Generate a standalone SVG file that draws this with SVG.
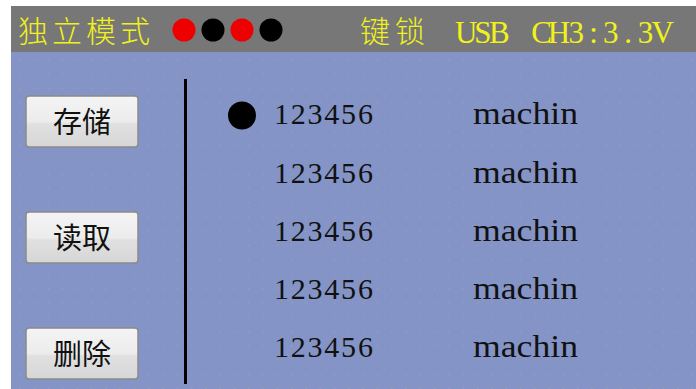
<svg xmlns="http://www.w3.org/2000/svg" width="696" height="389" viewBox="0 0 696 389">
<style>
.cjk{font-family:"Noto Sans CJK SC","Noto Sans",sans-serif;}
.ser{font-family:"Liberation Serif","DejaVu Serif",serif;}
.mid{text-anchor:middle;}
.hdr{fill:#f2f21a;font-size:30px;font-weight:300;}
.hdr.ser{font-size:31px;font-weight:400;}
.btn rect{fill:url(#btnGrad);stroke:#8a8a8a;stroke-width:1.5;}
.btn text{fill:#111;font-size:29px;text-anchor:middle;}
.row text{fill:#111;font-size:30px;}
.row text.w{font-size:32px;}
</style>
<defs>
<linearGradient id="btnGrad" x1="0" y1="0" x2="0" y2="1">
<stop offset="0" stop-color="#f4f4f4"/>
<stop offset="0.5" stop-color="#ececec"/>
<stop offset="0.55" stop-color="#e0e0e0"/>
<stop offset="1" stop-color="#d6d6d6"/>
</linearGradient>
<pattern id="dots" x="5" y="2" width="14.3" height="14.3" patternUnits="userSpaceOnUse">
<rect x="0" y="0" width="1.2" height="1.2" fill="#9aa0b8"/>
</pattern>
</defs>
<rect width="696" height="389" fill="#ffffff"/>
<g id="screen">
<rect x="11" y="52" width="685" height="337" fill="#8494c6"/>
<rect x="11" y="52" width="685" height="337" fill="url(#dots)"/>
</g>
<g id="header">
<rect x="11" y="6" width="685" height="46" fill="#777777"/>
<text class="cjk hdr" x="18" y="42" textLength="132">独立模式</text>
<circle cx="184" cy="30" r="11.5" fill="#ee0000"/>
<circle cx="213" cy="30" r="11.5" fill="#000"/>
<circle cx="242" cy="30" r="11.5" fill="#ee0000"/>
<circle cx="271" cy="30" r="11.5" fill="#000"/>
<text class="cjk hdr" x="360" y="42" textLength="65">键锁</text>
<text class="ser mid hdr" x="466.3 482.8 499.3" y="43">USB</text>
<text class="ser mid hdr" x="541.6 558.9 576.2 593.5 610.8 628.1 645.4 662.7" y="43">CH3:3.3V</text>
</g>
<g id="btn-save" class="btn">
<rect x="26" y="96" width="112" height="51" rx="3"/>
<text class="cjk" x="82" y="133">存储</text>
</g>
<g id="btn-read" class="btn">
<rect x="26" y="212" width="112" height="51" rx="3"/>
<text class="cjk" x="82" y="249">读取</text>
</g>
<g id="btn-delete" class="btn">
<rect x="26" y="328" width="112" height="51" rx="3"/>
<text class="cjk" x="82" y="365">删除</text>
</g>
<g id="divider">
<line x1="185.5" y1="79" x2="185.5" y2="384" stroke="#000" stroke-width="3"/>
</g>
<g id="list">
<circle cx="242" cy="115.5" r="14" fill="#000"/>
<g class="row ser">
<text class="mid" x="281.4 298.2 315 331.8 348.6 365.4" y="124">123456</text>
<text class="w" x="473" y="124" textLength="105" lengthAdjust="spacingAndGlyphs">machin</text>
<text class="mid" x="281.4 298.2 315 331.8 348.6 365.4" y="183">123456</text>
<text class="w" x="473" y="183" textLength="105" lengthAdjust="spacingAndGlyphs">machin</text>
<text class="mid" x="281.4 298.2 315 331.8 348.6 365.4" y="241">123456</text>
<text class="w" x="473" y="241" textLength="105" lengthAdjust="spacingAndGlyphs">machin</text>
<text class="mid" x="281.4 298.2 315 331.8 348.6 365.4" y="299">123456</text>
<text class="w" x="473" y="299" textLength="105" lengthAdjust="spacingAndGlyphs">machin</text>
<text class="mid" x="281.4 298.2 315 331.8 348.6 365.4" y="357">123456</text>
<text class="w" x="473" y="357" textLength="105" lengthAdjust="spacingAndGlyphs">machin</text>
</g>
</g>
</svg>
